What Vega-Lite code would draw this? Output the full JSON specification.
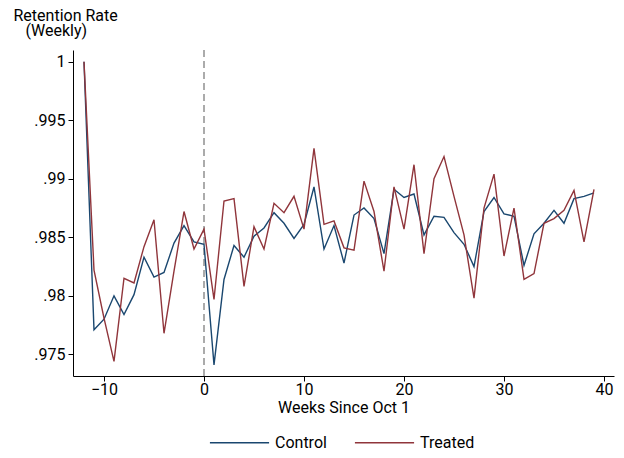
{
  "$schema": "https://vega.github.io/schema/vega-lite/v6.json",
  "width": 541,
  "height": 326,
  "autosize": {"type": "none"},
  "padding": {"left": 73, "top": 50, "right": 10, "bottom": 82},
  "background": "white",
  "config": {
    "font": "Roboto",
    "view": {"stroke": null},
    "axis": {
      "grid": false,
      "domainColor": "#000000",
      "domainWidth": 1,
      "tickColor": "#000000",
      "tickWidth": 1,
      "tickSize": 5,
      "labelFont": "Roboto",
      "labelFontSize": 16,
      "labelColor": "#000000",
      "titleFont": "Roboto",
      "titleFontSize": 16,
      "titleFontWeight": "normal",
      "titleColor": "#000000"
    },
    "legend": {
      "labelFont": "Roboto",
      "labelFontSize": 16,
      "labelColor": "#000000"
    }
  },
  "datasets": {
    "retention": [
      {"week": -12, "group": "Control", "rate": 1.0},
      {"week": -11, "group": "Control", "rate": 0.9771},
      {"week": -10, "group": "Control", "rate": 0.978},
      {"week": -9, "group": "Control", "rate": 0.98},
      {"week": -8, "group": "Control", "rate": 0.9784},
      {"week": -7, "group": "Control", "rate": 0.9801},
      {"week": -6, "group": "Control", "rate": 0.9833},
      {"week": -5, "group": "Control", "rate": 0.9816},
      {"week": -4, "group": "Control", "rate": 0.982},
      {"week": -3, "group": "Control", "rate": 0.9845},
      {"week": -2, "group": "Control", "rate": 0.986},
      {"week": -1, "group": "Control", "rate": 0.9846},
      {"week": 0, "group": "Control", "rate": 0.9844},
      {"week": 1, "group": "Control", "rate": 0.9741},
      {"week": 2, "group": "Control", "rate": 0.9814},
      {"week": 3, "group": "Control", "rate": 0.9843},
      {"week": 4, "group": "Control", "rate": 0.9833},
      {"week": 5, "group": "Control", "rate": 0.9851},
      {"week": 6, "group": "Control", "rate": 0.9858},
      {"week": 7, "group": "Control", "rate": 0.9871},
      {"week": 8, "group": "Control", "rate": 0.9862},
      {"week": 9, "group": "Control", "rate": 0.9849},
      {"week": 10, "group": "Control", "rate": 0.9861},
      {"week": 11, "group": "Control", "rate": 0.9893},
      {"week": 12, "group": "Control", "rate": 0.984},
      {"week": 13, "group": "Control", "rate": 0.986},
      {"week": 14, "group": "Control", "rate": 0.9828},
      {"week": 15, "group": "Control", "rate": 0.9869},
      {"week": 16, "group": "Control", "rate": 0.9875},
      {"week": 17, "group": "Control", "rate": 0.9866},
      {"week": 18, "group": "Control", "rate": 0.9836},
      {"week": 19, "group": "Control", "rate": 0.9891},
      {"week": 20, "group": "Control", "rate": 0.9884},
      {"week": 21, "group": "Control", "rate": 0.9887},
      {"week": 22, "group": "Control", "rate": 0.9852},
      {"week": 23, "group": "Control", "rate": 0.9868},
      {"week": 24, "group": "Control", "rate": 0.9867},
      {"week": 25, "group": "Control", "rate": 0.9854},
      {"week": 26, "group": "Control", "rate": 0.9844},
      {"week": 27, "group": "Control", "rate": 0.9825},
      {"week": 28, "group": "Control", "rate": 0.9872},
      {"week": 29, "group": "Control", "rate": 0.9884},
      {"week": 30, "group": "Control", "rate": 0.987},
      {"week": 31, "group": "Control", "rate": 0.9868},
      {"week": 32, "group": "Control", "rate": 0.9826},
      {"week": 33, "group": "Control", "rate": 0.9853},
      {"week": 34, "group": "Control", "rate": 0.9862},
      {"week": 35, "group": "Control", "rate": 0.9873},
      {"week": 36, "group": "Control", "rate": 0.9862},
      {"week": 37, "group": "Control", "rate": 0.9883},
      {"week": 38, "group": "Control", "rate": 0.9885},
      {"week": 39, "group": "Control", "rate": 0.9888},
      {"week": -12, "group": "Treated", "rate": 1.0},
      {"week": -11, "group": "Treated", "rate": 0.9822},
      {"week": -10, "group": "Treated", "rate": 0.9781},
      {"week": -9, "group": "Treated", "rate": 0.9744},
      {"week": -8, "group": "Treated", "rate": 0.9815},
      {"week": -7, "group": "Treated", "rate": 0.9811},
      {"week": -6, "group": "Treated", "rate": 0.9842},
      {"week": -5, "group": "Treated", "rate": 0.9865},
      {"week": -4, "group": "Treated", "rate": 0.9768},
      {"week": -3, "group": "Treated", "rate": 0.9821},
      {"week": -2, "group": "Treated", "rate": 0.9872},
      {"week": -1, "group": "Treated", "rate": 0.984},
      {"week": 0, "group": "Treated", "rate": 0.9857},
      {"week": 1, "group": "Treated", "rate": 0.9797},
      {"week": 2, "group": "Treated", "rate": 0.9881},
      {"week": 3, "group": "Treated", "rate": 0.9883},
      {"week": 4, "group": "Treated", "rate": 0.9808},
      {"week": 5, "group": "Treated", "rate": 0.9859},
      {"week": 6, "group": "Treated", "rate": 0.984},
      {"week": 7, "group": "Treated", "rate": 0.9879},
      {"week": 8, "group": "Treated", "rate": 0.9871},
      {"week": 9, "group": "Treated", "rate": 0.9885},
      {"week": 10, "group": "Treated", "rate": 0.9857},
      {"week": 11, "group": "Treated", "rate": 0.9926},
      {"week": 12, "group": "Treated", "rate": 0.9861},
      {"week": 13, "group": "Treated", "rate": 0.9864},
      {"week": 14, "group": "Treated", "rate": 0.9841},
      {"week": 15, "group": "Treated", "rate": 0.9839},
      {"week": 16, "group": "Treated", "rate": 0.9898},
      {"week": 17, "group": "Treated", "rate": 0.9872},
      {"week": 18, "group": "Treated", "rate": 0.9821},
      {"week": 19, "group": "Treated", "rate": 0.9893},
      {"week": 20, "group": "Treated", "rate": 0.9857},
      {"week": 21, "group": "Treated", "rate": 0.9912},
      {"week": 22, "group": "Treated", "rate": 0.9836},
      {"week": 23, "group": "Treated", "rate": 0.99},
      {"week": 24, "group": "Treated", "rate": 0.9919},
      {"week": 25, "group": "Treated", "rate": 0.9885},
      {"week": 26, "group": "Treated", "rate": 0.9852},
      {"week": 27, "group": "Treated", "rate": 0.9798},
      {"week": 28, "group": "Treated", "rate": 0.9875},
      {"week": 29, "group": "Treated", "rate": 0.9904},
      {"week": 30, "group": "Treated", "rate": 0.9834},
      {"week": 31, "group": "Treated", "rate": 0.9875},
      {"week": 32, "group": "Treated", "rate": 0.9814},
      {"week": 33, "group": "Treated", "rate": 0.9819},
      {"week": 34, "group": "Treated", "rate": 0.9862},
      {"week": 35, "group": "Treated", "rate": 0.9866},
      {"week": 36, "group": "Treated", "rate": 0.9873},
      {"week": 37, "group": "Treated", "rate": 0.989},
      {"week": 38, "group": "Treated", "rate": 0.9846},
      {"week": 39, "group": "Treated", "rate": 0.9891}
    ],
    "policy": [{"week": 0}]
  },
  "layer": [
    {
      "data": {"name": "policy"},
      "mark": {"type": "rule", "color": "#7f7f7f", "strokeWidth": 1.3, "strokeDash": [7, 4]},
      "encoding": {
        "x": {"field": "week", "type": "quantitative", "scale": {"domain": [-13.1, 41]}}
      }
    },
    {
      "data": {"name": "retention"},
      "mark": {"type": "line", "strokeWidth": 1.4},
      "encoding": {
        "x": {
          "field": "week",
          "type": "quantitative",
          "scale": {"domain": [-13.1, 41], "nice": false, "zero": false},
          "axis": {
            "values": [-10, 0, 10, 20, 30, 40],
            "title": "Weeks Since Oct 1",
            "labelPadding": 0,
            "titlePadding": 2,
            "labelFlush": false
          }
        },
        "y": {
          "field": "rate",
          "type": "quantitative",
          "scale": {"domain": [0.97315, 1.001], "nice": false, "zero": false},
          "axis": {
            "values": [0.975, 0.98, 0.985, 0.99, 0.995, 1],
            "labelExpr": "datum.value >= 1 ? '1' : substring(format(datum.value, '.3~f'), 1)",
            "labelPadding": 3,
            "labelFlush": false,
            "title": ["Retention Rate", "\u2800(Weekly)"],
            "titleAngle": 0,
            "titleAlign": "left",
            "titleBaseline": "alphabetic",
            "titleX": -60,
            "titleY": -30,
            "titleLineHeight": 15
          }
        },
        "color": {
          "field": "group",
          "type": "nominal",
          "scale": {"domain": ["Control", "Treated"], "range": ["#1a476f", "#90353b"]},
          "legend": {
            "title": null,
            "orient": "none",
            "legendX": 136,
            "legendY": 362,
            "direction": "horizontal",
            "symbolType": "stroke",
            "symbolSize": 3500,
            "symbolStrokeWidth": 1.4,
            "columnPadding": 25,
            "labelOffset": 5
          }
        }
      }
    }
  ]
}
